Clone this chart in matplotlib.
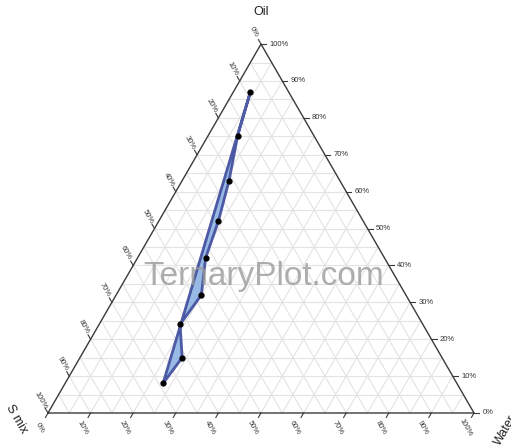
import numpy as np
import matplotlib
matplotlib.use("Agg")
import matplotlib.pyplot as plt

# Composition of each sample (fractions in %)
oil = [87, 75, 63, 52, 42, 32, 24, 15, 8]
water = [4, 7, 11, 14, 16, 20, 19, 24, 23]
s_mix = [9, 18, 26, 34, 42, 48, 57, 61, 69]

tick_values = list(range(0, 101, 10))
grid_values = list(range(5, 100, 5))

SQ3 = np.sqrt(3) / 2


def to_xy(o, w):
    """Ternary (oil, water) in % -> cartesian, side length 1.
    S mix corner bottom-left, Water bottom-right, Oil on top."""
    o = np.asarray(o, dtype=float) / 100.0
    w = np.asarray(w, dtype=float) / 100.0
    return w + o / 2, o * SQ3


plt.rcParams["font.family"] = ["Liberation Sans", "DejaVu Sans"]
fig = plt.figure(figsize=(5.11, 4.46), dpi=100)
ax = fig.add_axes([0, 0, 1, 1])
ax.set_xlim(-48 / 426, (511 - 48) / 426)
ax.set_ylim(-(446 - 413) / 426, 413 / 426)
ax.axis("off")

grid_kw = dict(color="#e3e3e3", lw=0.8, zorder=1)
for g in grid_values:
    # constant oil (horizontal)
    x, y = to_xy([g, g], [0, 100 - g])
    ax.plot(x, y, **grid_kw)
    # constant water
    x, y = to_xy([0, 100 - g], [g, g])
    ax.plot(x, y, **grid_kw)
    # constant S mix
    x, y = to_xy([100 - g, 0], [0, 100 - g])
    ax.plot(x, y, **grid_kw)

# triangle frame
x, y = to_xy([0, 0, 100, 0], [0, 100, 0, 0])
ax.plot(x, y, color="#3a3a3a", lw=1.0, zorder=2)

tick_len = 0.012
lab_kw = dict(fontsize=5.5, color="#333333")
for t in tick_values:
    # Oil axis on the right edge
    x, y = to_xy(t, 100 - t)
    ax.plot([x, x + tick_len], [y, y], color="#3a3a3a", lw=0.8)
    ax.text(x + 0.02, y, f"{t}%", ha="left", va="center", **lab_kw)
    # Water axis along the bottom
    x, y = to_xy(0, t)
    dx, dy = -0.5, -SQ3
    ax.plot([x, x + dx * tick_len], [y, y + dy * tick_len], color="#3a3a3a", lw=0.8)
    ax.text(x + dx * 0.04, y + dy * 0.04, f"{t}%", ha="center", va="center",
            rotation=-60, **lab_kw)
    # S mix axis on the left edge
    x, y = to_xy(100 - t, 0)
    dx, dy = -0.5, SQ3
    ax.plot([x, x + dx * tick_len], [y, y + dy * tick_len], color="#3a3a3a", lw=0.8)
    ax.text(x + dx * 0.033, y + dy * 0.033, f"{t}%", ha="center", va="center",
            rotation=-60, **lab_kw)

title_kw = dict(fontsize=9, color="#222222", ha="center", va="center")
ax.text(0.5, 0.941, "Oil", **title_kw)
ax.text(-0.075, -0.014, "S mix", rotation=-60, **title_kw)
ax.text(1.073, -0.040, "Water", rotation=60, **title_kw)

# sample region
px, py = to_xy(oil, water)
ax.fill(px, py, facecolor="#8db3e2", edgecolor="#3f4b9c", lw=2.0,
        alpha=0.9, zorder=3)
ax.plot(px, py, "o", color="black", ms=3.5, zorder=4)

ax.text(0.505, 0.32, "TernaryPlot.com", fontsize=24, color="#9a9a9a",
        alpha=0.8, ha="center", va="center", zorder=5)

fig.savefig("out.png", dpi=100)
